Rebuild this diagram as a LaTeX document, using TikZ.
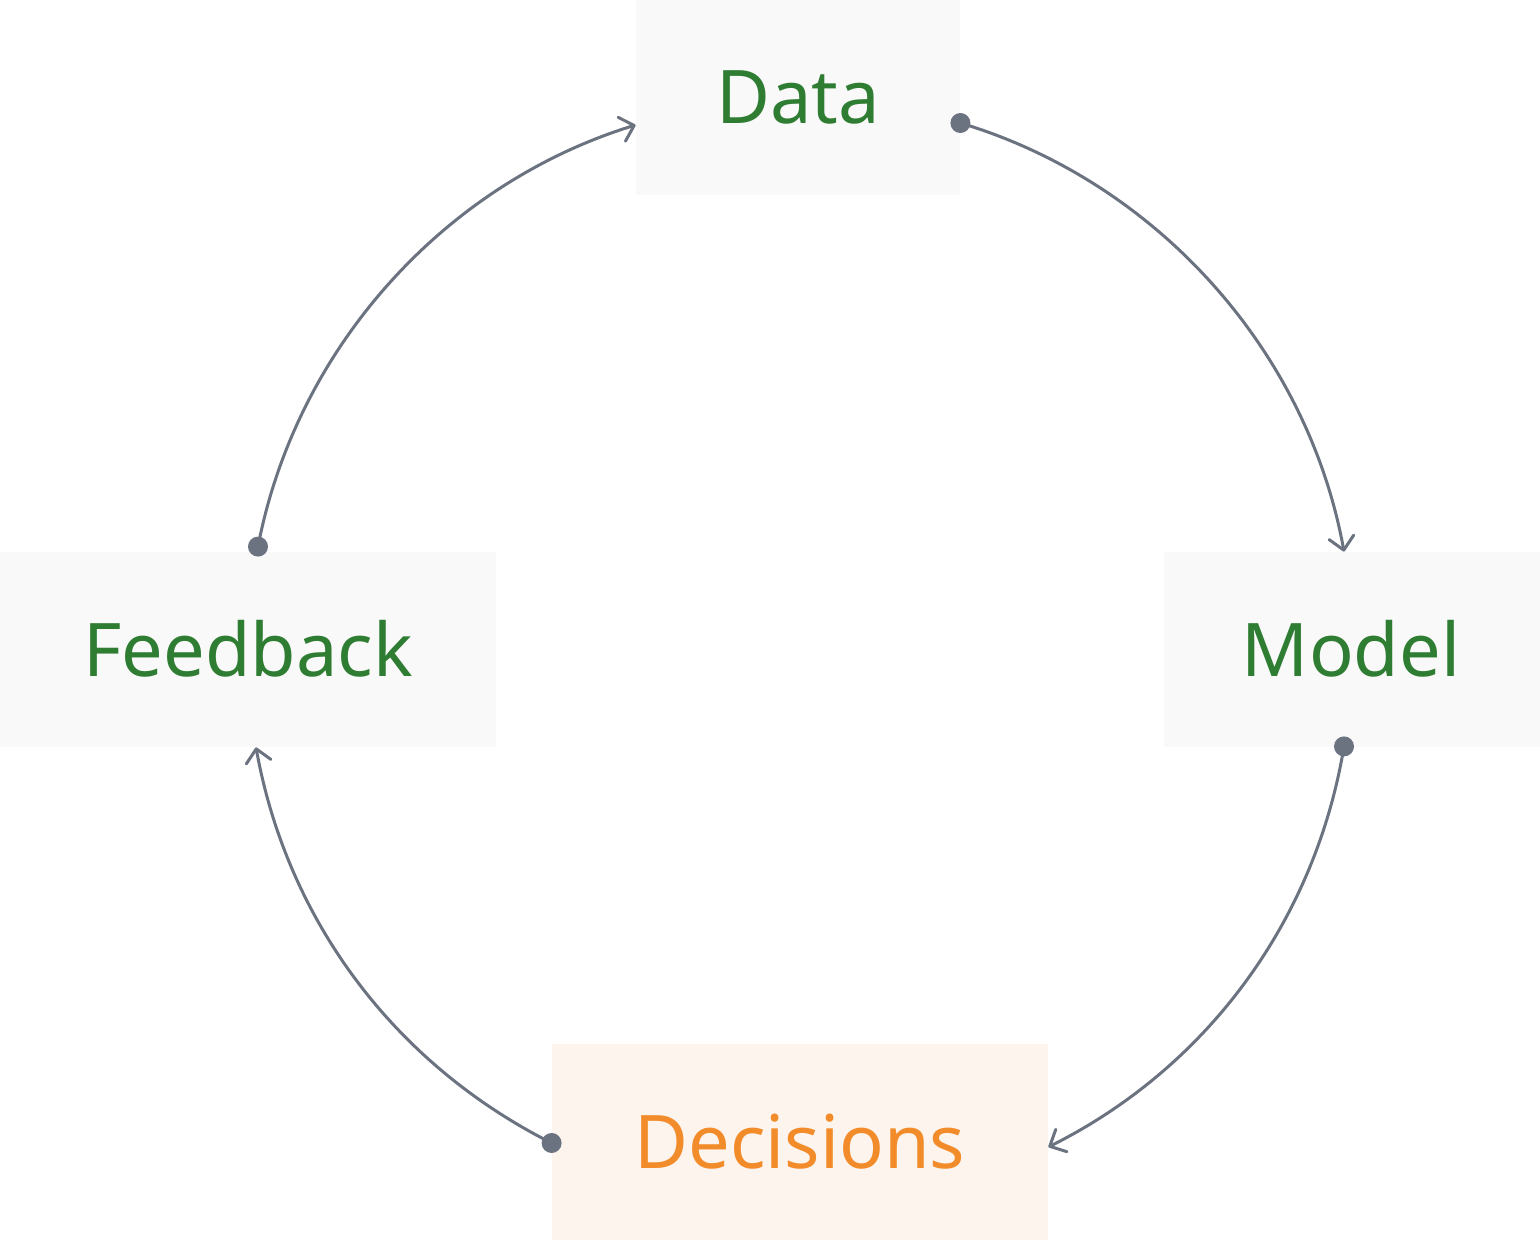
\documentclass[tikz,border=0pt]{standalone}
\usepackage{fontspec}
\setmainfont{Noto Sans}
\usetikzlibrary{arrows.meta,calc}
\definecolor{boxgray}{HTML}{F9F9F9}
\definecolor{boxpeach}{HTML}{FDF4EE}
\definecolor{txtgreen}{HTML}{2E7D32}
\definecolor{txtorange}{HTML}{F28C2A}
\definecolor{linegray}{HTML}{6B7280}
\begin{document}
\begin{tikzpicture}[x=0.5pt,y=-0.5pt,
  box/.style={draw=none,inner sep=0pt,minimum height=97.5pt},
  lbl/.style={font=\fontsize{37}{40}\selectfont,text height=26.5pt,text depth=0pt,inner sep=0pt},
  link/.style={draw=linegray,line width=1.5pt,line cap=round,
    -{Straight Barb[length=6.5pt,width=12.5pt,line width=1.5pt,round]},looseness=0.91},
  dot/.style={fill=linegray}]
\useasboundingbox (0,0) rectangle (1540,1240);
\node[box,fill=boxgray,minimum width=162pt] (data) at (798,97.5) {};
\node[box,fill=boxgray,minimum width=188pt] (model) at (1352,649.5) {};
\node[box,fill=boxgray,minimum width=248pt] (fb) at (248,649.5) {};
\node[box,fill=boxpeach,minimum width=248pt,minimum height=98pt] (dec) at (800,1142) {};
\node[lbl,text=txtgreen] (tdata) at (data) {Data};
\node[lbl,text=txtgreen] (tmodel) at (1351,649.5) {Model};
\node[lbl,text=txtgreen] (tfb) at (fb) {Feedback};
\node[lbl,text=txtorange] (tdec) at (dec) {Decisions};
\coordinate (dR) at ($(data.east)+(0,25.5)$);
\coordinate (dL) at ($(data.west)+(0,27.5)$);
\coordinate (mT) at ($(model.north)+(-8,0)$);
\coordinate (mB) at ($(model.south)+(-8,-1)$);
\coordinate (cR) at ($(dec.east)+(0,5)$);
\coordinate (cL) at ($(dec.west)+(0,1)$);
\coordinate (fB) at ($(fb.south)+(8,0)$);
\coordinate (fT) at ($(fb.north)+(10,-5)$);
\draw[link] (dR) to[bend left=31.5] (mT);
\draw[link] (mB) to[bend left=27] (cR);
\draw[link] (cL) to[bend left=26.5] (fB);
\draw[link] (fT) to[bend left=31] (dL);
\foreach \p in {dR,mB,cL,fT} \fill[dot] (\p) circle (10);
\end{tikzpicture}
\end{document}
